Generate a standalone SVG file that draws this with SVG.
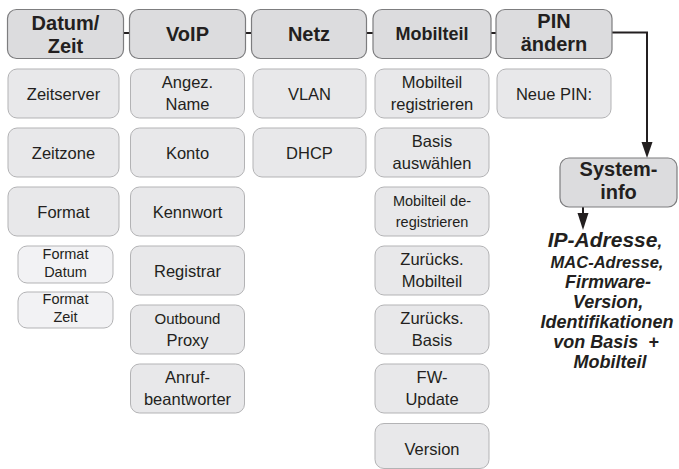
<svg xmlns="http://www.w3.org/2000/svg" width="679" height="469" viewBox="0 0 679 469">
<style>
.h{fill:#dcdcde;stroke:#7d7d7f;stroke-width:1.2}
.s{fill:#e8e8ea;stroke:#b3b3b5;stroke-width:1}
.f{fill:#f2f2f4;stroke:#b3b3b5;stroke-width:1}
text{font-family:"Liberation Sans",Arial,sans-serif;fill:#231f20;text-anchor:middle}
.ht{font-size:20px;font-weight:bold}
.st{font-size:16.5px}
.sm{font-size:14.5px}
.it{font-weight:bold;font-style:italic;font-size:18px}
.ln{stroke:#231f20;stroke-width:2;fill:none}
.hd{fill:#231f20}
</style>
<g id="connectors">
<line class="ln" x1="123.5" y1="33" x2="129.5" y2="33"/>
<line class="ln" x1="245.5" y1="33" x2="251.5" y2="33"/>
<line class="ln" x1="366.5" y1="33" x2="373" y2="33"/>
<line class="ln" x1="491" y1="33" x2="496" y2="33"/>
<path class="ln" d="M612,32.5 H647 V145"/>
<polygon class="hd" points="641.5,142 652.5,142 647,158"/>
<path class="ln" d="M583,207 V216"/>
<polygon class="hd" points="577.5,213 588.5,213 583,230"/>
</g>
<g id="datum-zeit"><rect class="h" x="7.5" y="9.5" width="116" height="49" rx="9"/><text class="ht" x="65.5" y="30">Datum/</text><text class="ht" x="65.5" y="53">Zeit</text></g>
<g id="voip"><rect class="h" x="129.5" y="9.5" width="116" height="49" rx="9"/><text class="ht" x="187.5" y="41">VoIP</text></g>
<g id="netz"><rect class="h" x="251.5" y="9.5" width="115" height="49" rx="9"/><text class="ht" x="309" y="41">Netz</text></g>
<g id="mobilteil"><rect class="h" x="373" y="9.5" width="118" height="49" rx="9"/><text class="ht" x="432" y="40" style="font-size:18px">Mobilteil</text></g>
<g id="pin-aendern"><rect class="h" x="496" y="9.5" width="116" height="49" rx="9"/><text class="ht" x="554" y="28">PIN</text><text class="ht" x="554" y="51">ändern</text></g>

<g id="zeitserver"><rect class="s" x="8" y="69" width="111" height="49" rx="9"/><text class="st" x="63.5" y="100">Zeitserver</text></g>
<g id="zeitzone"><rect class="s" x="8" y="128" width="111" height="49" rx="9"/><text class="st" x="63.5" y="159">Zeitzone</text></g>
<g id="format"><rect class="s" x="8" y="187" width="111" height="49" rx="9"/><text class="st" x="63.5" y="218">Format</text></g>
<g id="format-datum"><rect class="f" x="18" y="246" width="95" height="37" rx="9"/><text class="sm" x="65.5" y="259">Format</text><text class="sm" x="65.5" y="277">Datum</text></g>
<g id="format-zeit"><rect class="f" x="18" y="292" width="95" height="36" rx="9"/><text class="sm" x="65.5" y="304">Format</text><text class="sm" x="65.5" y="322">Zeit</text></g>

<g id="angez-name"><rect class="s" x="130.5" y="69" width="114" height="49" rx="9"/><text class="st" x="187.5" y="88">Angez.</text><text class="st" x="187.5" y="110">Name</text></g>
<g id="konto"><rect class="s" x="130.5" y="128" width="114" height="49" rx="9"/><text class="st" x="187.5" y="159">Konto</text></g>
<g id="kennwort"><rect class="s" x="130.5" y="187" width="114" height="49" rx="9"/><text class="st" x="187.5" y="218">Kennwort</text></g>
<g id="registrar"><rect class="s" x="130.5" y="246" width="114" height="49" rx="9"/><text class="st" x="187.5" y="277">Registrar</text></g>
<g id="outbound-proxy"><rect class="s" x="130.5" y="305" width="114" height="49" rx="9"/><text class="st" x="187.5" y="324" style="font-size:15px">Outbound</text><text class="st" x="187.5" y="346">Proxy</text></g>
<g id="anrufbeantworter"><rect class="s" x="130.5" y="364" width="114" height="49" rx="9"/><text class="st" x="187.5" y="383">Anruf-</text><text class="st" x="187.5" y="405">beantworter</text></g>

<g id="vlan"><rect class="s" x="253" y="69" width="113" height="49" rx="9"/><text class="st" x="309.5" y="100">VLAN</text></g>
<g id="dhcp"><rect class="s" x="253" y="128" width="113" height="49" rx="9"/><text class="st" x="309.5" y="159">DHCP</text></g>

<g id="mobilteil-registrieren"><rect class="s" x="375" y="69" width="114" height="49" rx="9"/><text class="st" x="432" y="88">Mobilteil</text><text class="st" x="432" y="110">registrieren</text></g>
<g id="basis-auswaehlen"><rect class="s" x="375" y="128" width="114" height="49" rx="9"/><text class="st" x="432" y="147">Basis</text><text class="st" x="432" y="169">auswählen</text></g>
<g id="mobilteil-deregistrieren"><rect class="s" x="375" y="187" width="114" height="49" rx="9"/><text class="sm" x="432" y="206">Mobilteil de-</text><text class="sm" x="432" y="227">registrieren</text></g>
<g id="zuruecks-mobilteil"><rect class="s" x="375" y="246" width="114" height="49" rx="9"/><text class="st" x="432" y="265">Zurücks.</text><text class="st" x="432" y="287">Mobilteil</text></g>
<g id="zuruecks-basis"><rect class="s" x="375" y="305" width="114" height="49" rx="9"/><text class="st" x="432" y="324">Zurücks.</text><text class="st" x="432" y="346">Basis</text></g>
<g id="fw-update"><rect class="s" x="375" y="364" width="114" height="49" rx="9"/><text class="st" x="432" y="383">FW-</text><text class="st" x="432" y="405">Update</text></g>
<g id="version"><rect class="s" x="375" y="423.5" width="114" height="45" rx="9"/><text class="st" x="432" y="455">Version</text></g>

<g id="neue-pin"><rect class="s" x="497" y="69" width="114" height="49" rx="9"/><text class="st" x="554" y="100">Neue PIN:</text></g>

<g id="systeminfo"><rect class="h" x="560" y="158" width="117" height="49" rx="9"/><text class="ht" x="618.5" y="176">System-</text><text class="ht" x="618.5" y="199">info</text></g>

<g id="systeminfo-text">
<text class="it" x="605" y="247" style="font-size:21px">IP-Adresse<tspan style="font-size:17px">,</tspan></text>
<text class="it" x="607" y="268" style="font-size:16.5px">MAC-Adresse,</text>
<text class="it" x="608" y="288">Firmware-</text>
<text class="it" x="608" y="308">Version,</text>
<text class="it" x="607" y="328">Identifikationen</text>
<text class="it" x="606" y="348" xml:space="preserve">von Basis  +</text>
<text class="it" x="610" y="368">Mobilteil</text>
</g>
</svg>
